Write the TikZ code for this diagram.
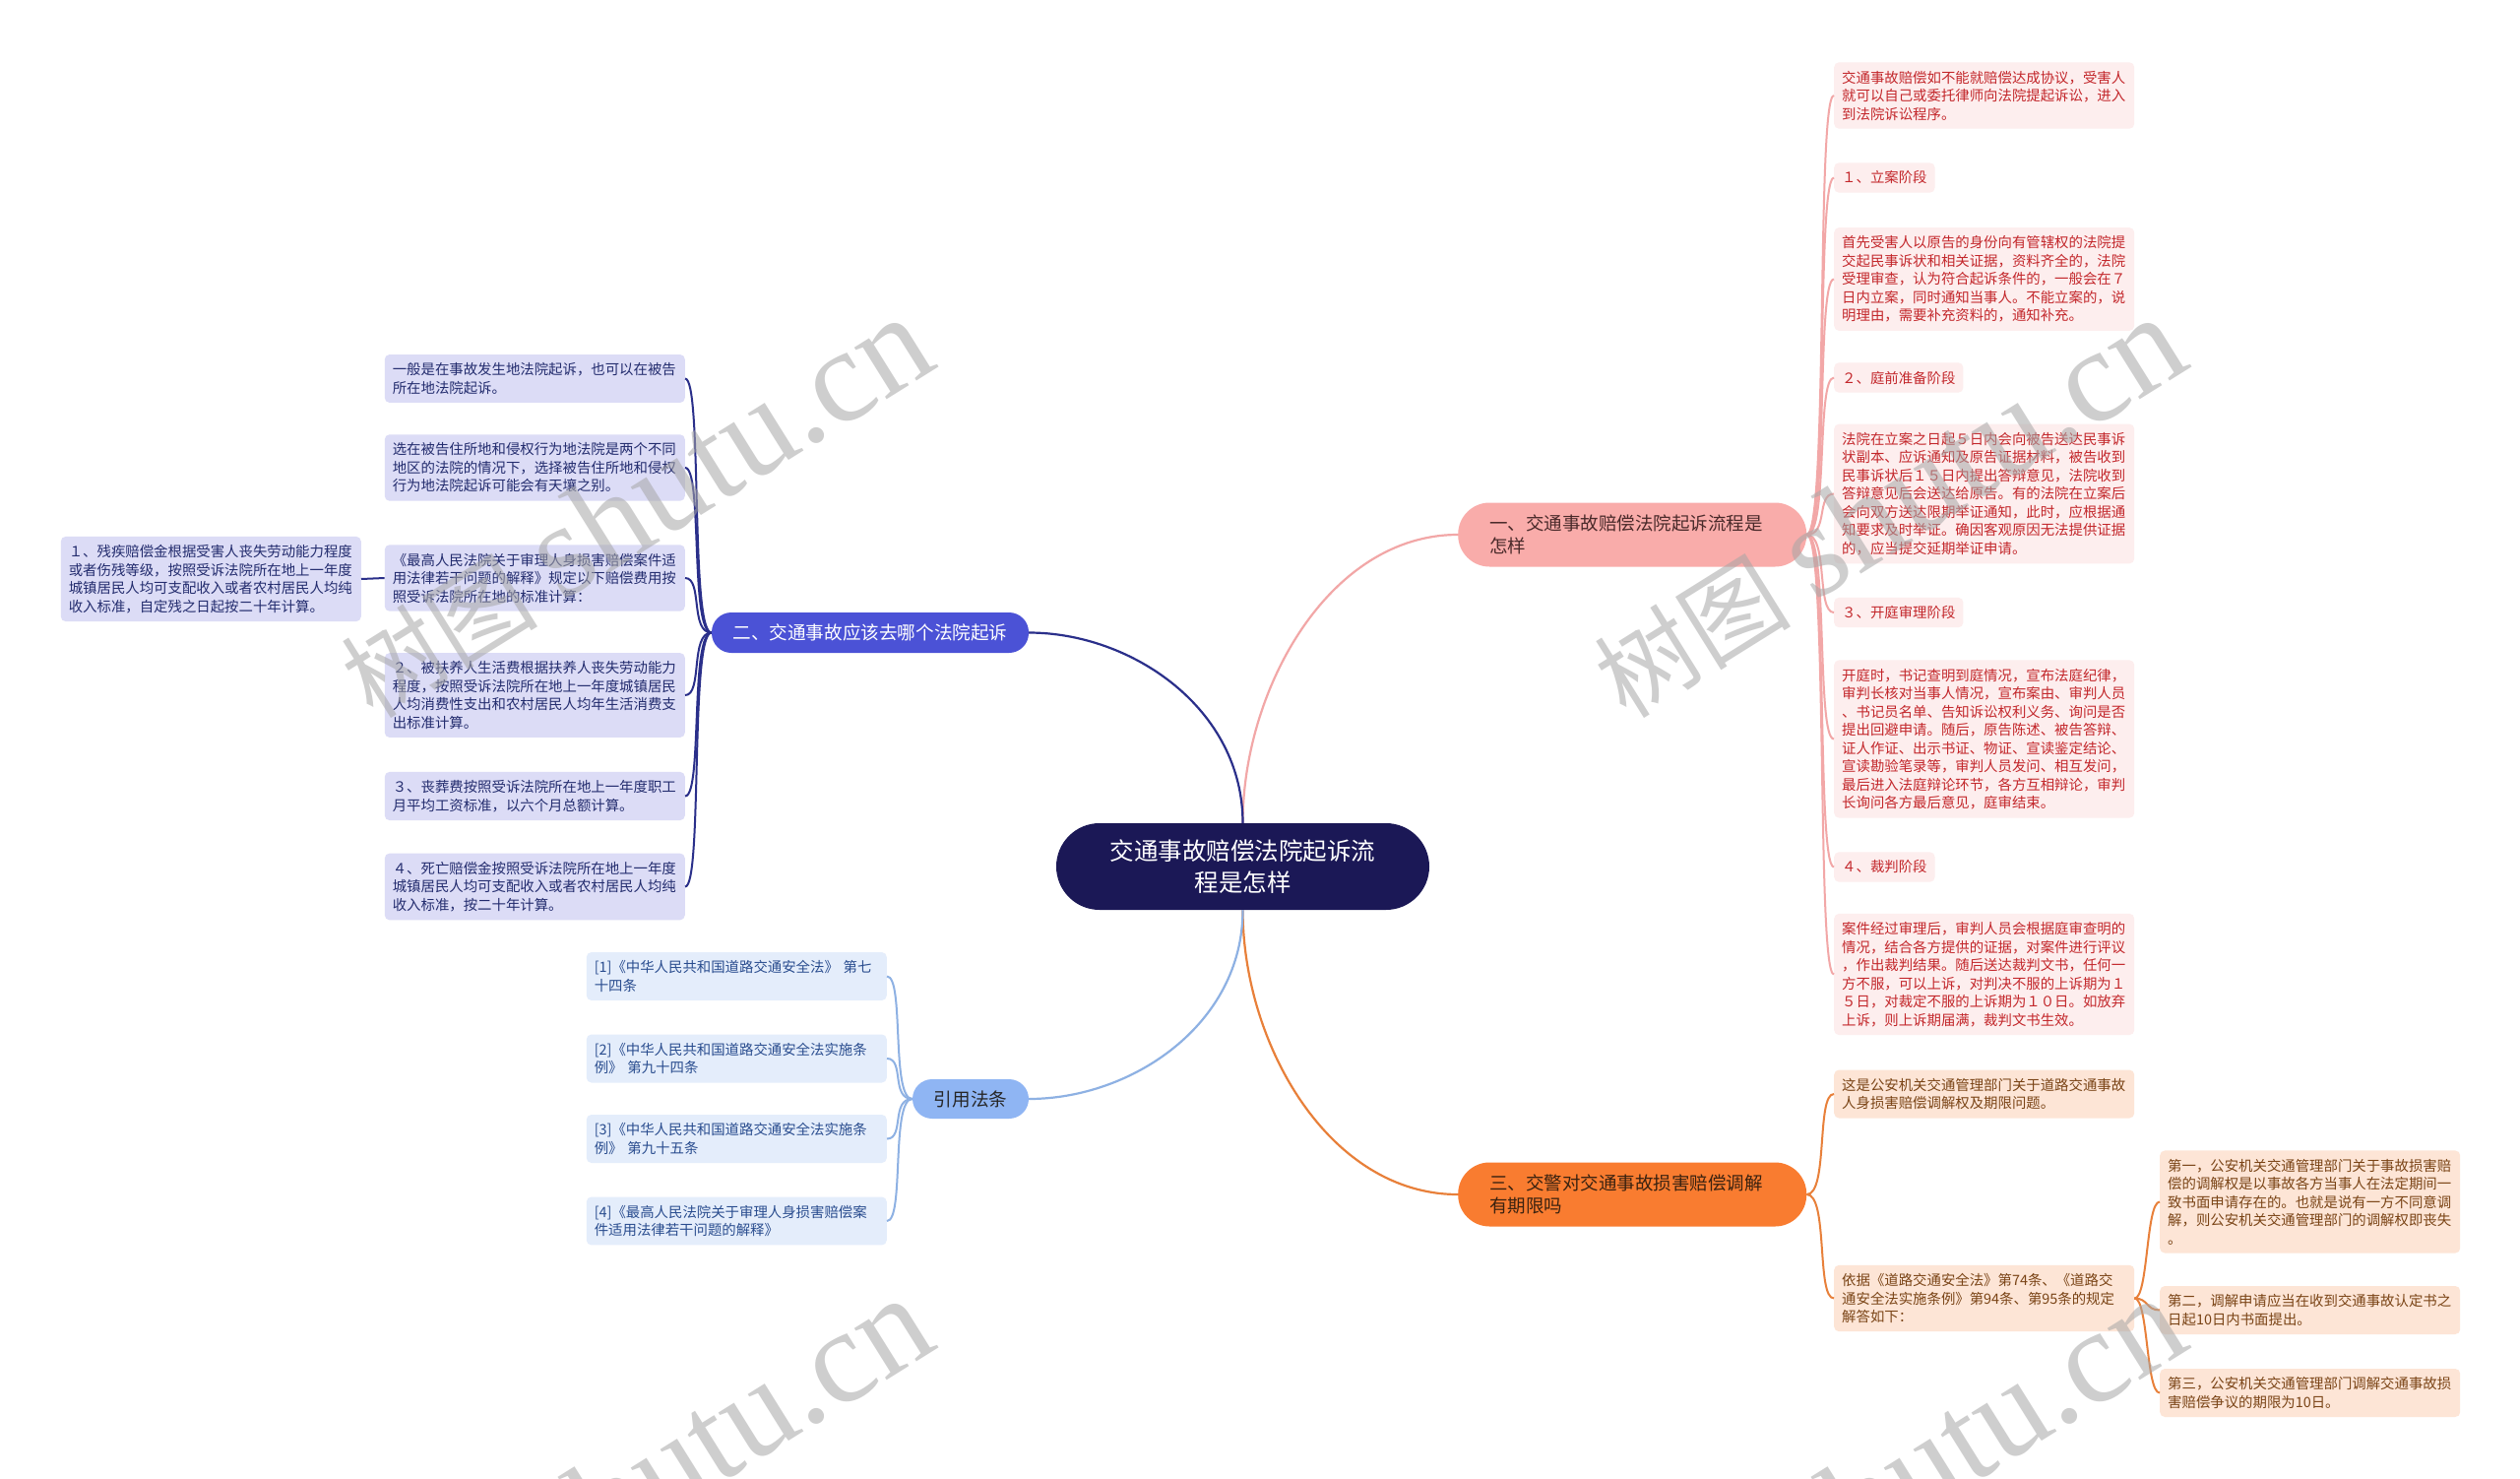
\documentclass[tikz,border=0pt]{standalone}
\usepackage{fontspec}
\setmainfont{Noto Sans CJK SC}
\newfontfamily\wmlatin{Liberation Serif}
\definecolor{cnav}{HTML}{1B1856}
\definecolor{pbr}{HTML}{F9ACAA}
\definecolor{pleaf}{HTML}{FDEEEE}
\definecolor{ptext}{HTML}{C3272B}
\definecolor{pline}{HTML}{F2A7A7}
\definecolor{obr}{HTML}{F97C30}
\definecolor{oleaf}{HTML}{FDE5D6}
\definecolor{otext}{HTML}{7A4416}
\definecolor{oline}{HTML}{E8803A}
\definecolor{bbr}{HTML}{4B52D6}
\definecolor{bleaf}{HTML}{DCDCF6}
\definecolor{btext}{HTML}{232C6E}
\definecolor{bline}{HTML}{2A2F8A}
\definecolor{cbr}{HTML}{8FB5F3}
\definecolor{cleaf}{HTML}{E4EDFB}
\definecolor{ctext}{HTML}{2A4D8F}
\definecolor{cline}{HTML}{8EB1E3}
\definecolor{brtext}{HTML}{4A2A2A}
\definecolor{ortext}{HTML}{3A2210}
\tikzset{
  leafbase/.style={rounded corners=5pt, inner xsep=8pt, inner ysep=8.5pt, align=left,
    font=\fontsize{14.4pt}{18.5pt}\selectfont},
  wide/.style={text width=289pt},
  leafR/.style={leafbase, fill=pleaf, text=ptext},
  leafO/.style={leafbase, fill=oleaf, text=otext},
  leafB/.style={leafbase, fill=bleaf, text=btext},
  leafC/.style={leafbase, fill=cleaf, text=ctext},
  bigbr/.style={rounded corners=32pt, inner xsep=32pt, inner ysep=0pt, text width=290pt,
    minimum height=65pt, align=left, font=\fontsize{18.5pt}{23pt}\selectfont},
  smallbr/.style={rounded corners=20pt, inner xsep=10pt, inner ysep=0pt, align=center,
    font=\fontsize{18.6pt}{23pt}\selectfont},
  conR/.style={draw=pline, line width=2pt},
  conO/.style={draw=oline, line width=2pt},
  conB/.style={draw=bline, line width=2pt},
  conC/.style={draw=cline, line width=2pt},
  wm/.style={rotate=32, text=black!35, opacity=0.55, inner sep=0pt,
    font=\fontsize{100pt}{100pt}\selectfont}
}
\begin{document}
\begin{tikzpicture}[x=1pt,y=-1pt]
\useasboundingbox (0,0) rectangle (2560,1502);
\fill[white] (0,0) rectangle (2560,1502);

% center
\node[fill=cnav, text=white, rounded corners=44pt, minimum width=379pt, minimum height=88pt,
  align=center, inner sep=0pt, font=\fontsize{24.5pt}{32.5pt}\selectfont] (c) at (1262.5,880)
  {交通事故赔偿法院起诉流\\程是怎样};

% main branches
\node[bigbr, fill=pbr, text=brtext, anchor=west] (b1) at (1481,543)
  {一、交通事故赔偿法院起诉流程是\\怎样};
\node[bigbr, fill=obr, text=ortext, anchor=west] (b3) at (1481,1213)
  {三、交警对交通事故损害赔偿调解\\有期限吗};
\node[smallbr, fill=bbr, text=white, minimum width=322pt, minimum height=41pt] (b2) at (884,642.5)
  {二、交通事故应该去哪个法院起诉};
\node[smallbr, fill=cbr, text=black!85, minimum width=118pt, minimum height=40pt] (b4) at (986,1116)
  {引用法条};

% right pink leaves
\node[leafR, wide, anchor=west] (l1) at (1863,97) {交通事故赔偿如不能就赔偿达成协议，受害人\\就可以自己或委托律师向法院提起诉讼，进入\\到法院诉讼程序。};
\node[leafR, anchor=west] (l2) at (1863,180.5) {１、立案阶段};
\node[leafR, wide, anchor=west] (l3) at (1863,283.5) {首先受害人以原告的身份向有管辖权的法院提\\交起民事诉状和相关证据，资料齐全的，法院\\受理审查，认为符合起诉条件的，一般会在７\\日内立案，同时通知当事人。不能立案的，说\\明理由，需要补充资料的，通知补充。};
\node[leafR, anchor=west] (l4) at (1863,383.5) {２、庭前准备阶段};
\node[leafR, wide, anchor=west] (l5) at (1863,501.5) {法院在立案之日起５日内会向被告送达民事诉\\状副本、应诉通知及原告证据材料，被告收到\\民事诉状后１５日内提出答辩意见，法院收到\\答辩意见后会送达给原告。有的法院在立案后\\会向双方送达限期举证通知，此时，应根据通\\知要求及时举证。确因客观原因无法提供证据\\的，应当提交延期举证申请。};
\node[leafR, anchor=west] (l6) at (1863,622) {３、开庭审理阶段};
\node[leafR, wide, anchor=west] (l7) at (1863,750.5) {开庭时，书记查明到庭情况，宣布法庭纪律，\\审判长核对当事人情况，宣布案由、审判人员\\、书记员名单、告知诉讼权利义务、询问是否\\提出回避申请。随后，原告陈述、被告答辩、\\证人作证、出示书证、物证、宣读鉴定结论、\\宣读勘验笔录等，审判人员发问、相互发问，\\最后进入法庭辩论环节，各方互相辩论，审判\\长询问各方最后意见，庭审结束。};
\node[leafR, anchor=west] (l8) at (1863,880.5) {４、裁判阶段};
\node[leafR, wide, anchor=west] (l9) at (1863,989.5) {案件经过审理后，审判人员会根据庭审查明的\\情况，结合各方提供的证据，对案件进行评议\\，作出裁判结果。随后送达裁判文书，任何一\\方不服，可以上诉，对判决不服的上诉期为１\\５日，对裁定不服的上诉期为１０日。如放弃\\上诉，则上诉期届满，裁判文书生效。};

% orange leaves
\node[leafO, wide, anchor=west] (o1) at (1863,1111) {这是公安机关交通管理部门关于道路交通事故\\人身损害赔偿调解权及期限问题。};
\node[leafO, wide, anchor=west] (o2) at (1863,1318.5) {依据《道路交通安全法》第74条、《道路交\\通安全法实施条例》第94条、第95条的规定\\解答如下：};
\node[leafO, wide, anchor=west] (p1) at (2194,1220.5) {第一，公安机关交通管理部门关于事故损害赔\\偿的调解权是以事故各方当事人在法定期间一\\致书面申请存在的。也就是说有一方不同意调\\解，则公安机关交通管理部门的调解权即丧失\\。};
\node[leafO, wide, anchor=west] (p2) at (2194,1330.5) {第二，调解申请应当在收到交通事故认定书之\\日起10日内书面提出。};
\node[leafO, wide, anchor=west] (p3) at (2194,1414.5) {第三，公安机关交通管理部门调解交通事故损\\害赔偿争议的期限为10日。};

% left blue leaves
\node[leafB, wide, anchor=east] (e1) at (696,384.5) {一般是在事故发生地法院起诉，也可以在被告\\所在地法院起诉。};
\node[leafB, wide, anchor=east] (e2) at (696,475) {选在被告住所地和侵权行为地法院是两个不同\\地区的法院的情况下，选择被告住所地和侵权\\行为地法院起诉可能会有天壤之别。};
\node[leafB, wide, anchor=east] (e3) at (696,587) {《最高人民法院关于审理人身损害赔偿案件适\\用法律若干问题的解释》规定以下赔偿费用按\\照受诉法院所在地的标准计算：};
\node[leafB, wide, anchor=east] (e4) at (696,706) {２、被扶养人生活费根据扶养人丧失劳动能力\\程度，按照受诉法院所在地上一年度城镇居民\\人均消费性支出和农村居民人均年生活消费支\\出标准计算。};
\node[leafB, wide, anchor=east] (e5) at (696,808.5) {３、丧葬费按照受诉法院所在地上一年度职工\\月平均工资标准，以六个月总额计算。};
\node[leafB, wide, anchor=east] (e6) at (696,900.5) {４、死亡赔偿金按照受诉法院所在地上一年度\\城镇居民人均可支配收入或者农村居民人均纯\\收入标准，按二十年计算。};
\node[leafB, wide, anchor=east] (f1) at (367,588) {１、残疾赔偿金根据受害人丧失劳动能力程度\\或者伤残等级，按照受诉法院所在地上一年度\\城镇居民人均可支配收入或者农村居民人均纯\\收入标准，自定残之日起按二十年计算。};

% citations
\node[leafC, wide, anchor=east] (k1) at (901,991.5) {[1]《中华人民共和国道路交通安全法》 第七\\十四条};
\node[leafC, wide, anchor=east] (k2) at (901,1075) {[2]《中华人民共和国道路交通安全法实施条\\例》 第九十四条};
\node[leafC, wide, anchor=east] (k3) at (901,1156.5) {[3]《中华人民共和国道路交通安全法实施条\\例》 第九十五条};
\node[leafC, wide, anchor=east] (k4) at (901,1240) {[4]《最高人民法院关于审理人身损害赔偿案\\件适用法律若干问题的解释》};

% main connectors
\draw[conR, line width=2.2pt] (c.north) .. controls (1262.5,700) and (1350,543) .. (b1.west);
\draw[conB, line width=2.2pt] (c.north) .. controls (1262.5,720) and (1150,642.5) .. (b2.east);
\draw[conO, line width=2.2pt] (c.south) .. controls (1262.5,1060) and (1350,1213) .. (b3.west);
\draw[conC, line width=2.2pt] (c.south) .. controls (1262.5,1040) and (1150,1116) .. (b4.east);

% right branch connectors
\foreach \n in {l1,l2,l3,l4,l5,l6,l7,l8,l9}
  \draw[conR] (b1.east) .. controls +(22,0) and +(-18,0) .. (\n.west);
\foreach \n in {o1,o2}
  \draw[conO] (b3.east) .. controls +(22,0) and +(-18,0) .. (\n.west);
\foreach \n in {p1,p2,p3}
  \draw[conO] (o2.east) .. controls +(14,0) and +(-14,0) .. (\n.west);
\foreach \n in {e1,e2,e3,e4,e5,e6}
  \draw[conB] (b2.west) .. controls +(-22,0) and +(18,0) .. (\n.east);
\draw[conB] (e3.west) -- (f1.east);
\foreach \n in {k1,k2,k3,k4}
  \draw[conC] (b4.west) .. controls +(-22,0) and +(18,0) .. (\n.east);

% watermarks
\begin{scope}
\clip (0,0) rectangle (2560,1502);
\foreach \a/\b in {645/515, 1918/515, 645/1511, 1918/1511}
  \node[wm] at (\a,\b) {树图\hspace{25pt}{\wmlatin\fontsize{135pt}{135pt}\selectfont shutu.cn}};
\end{scope}
\end{tikzpicture}
\end{document}
